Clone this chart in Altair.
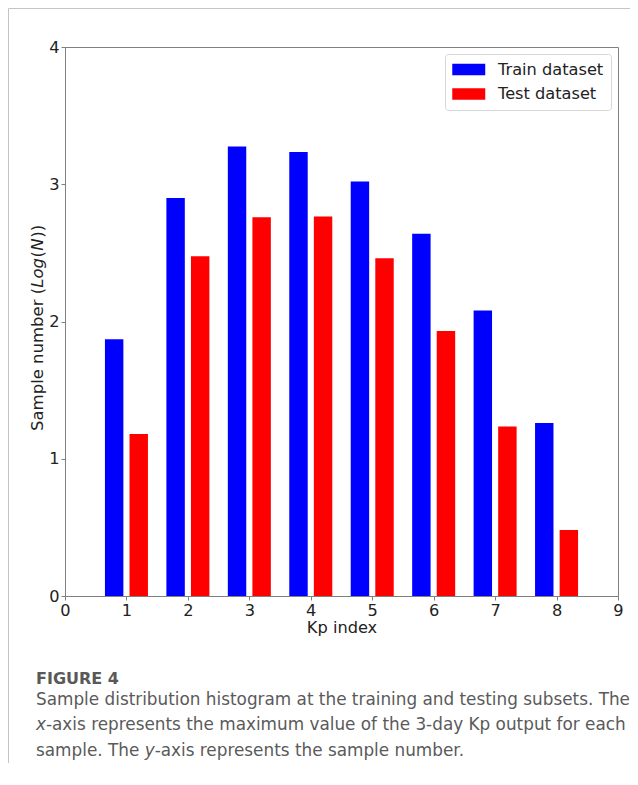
import altair as alt
import pandas as pd

# ---- data ----
kp = [1, 2, 3, 4, 5, 6, 7, 8]
train = [1.87, 2.90, 3.275, 3.235, 3.02, 2.64, 2.08, 1.26]
test = [1.18, 2.475, 2.76, 2.765, 2.46, 1.93, 1.235, 0.48]
series_names = ["Train dataset", "Test dataset"]
series_colors = ["#0000ff", "#ff0000"]
x_ticks = [0, 1, 2, 3, 4, 5, 6, 7, 8, 9]
y_ticks = [0, 1, 2, 3, 4]

x_title = "Kp index"
y_title_parts = ["Sample number (", "Log", "(", "N", "))"]
y_title_italic = [False, True, False, True, False]
caption_head = "FIGURE 4"
caption_line1 = "Sample distribution histogram at the training and testing subsets. The"
caption_line2 = ["x", "-axis represents the maximum value of the 3-day Kp output for each"]
caption_line3 = ["sample. The ", "y", "-axis represents the sample number."]

rows = []
for k, a, b in zip(kp, train, test):
    rows.append({"kp": k, "series": series_names[0], "value": a})
    rows.append({"kp": k, "series": series_names[1], "value": b})
df = pd.DataFrame(rows)

# ---- layout ----
W, H = 553, 549
CANVAS_W, CANVAS_H = 622, 755
PAD = {"left": 57, "top": 39, "right": CANVAS_W - 57 - W, "bottom": CANVAS_H - 39 - H}
LABEL_FONT = "DejaVu Sans"
FS = 16.2
CAP_FONT = "DejaVu Sans"
CAP_FS = 16.85
EM = CAP_FS / 2048.0
CAP_COLOR = "#5a5a5a"
one = pd.DataFrame({"d": [0]})

bars = alt.Chart(df).transform_calculate(
    x0="datum.series == 'Train dataset' ? datum.kp - 0.35 : datum.kp + 0.05"
).transform_calculate(
    x1="datum.x0 + 0.3"
).mark_bar().encode(
    x=alt.X("x0:Q",
            scale=alt.Scale(domain=[0, 9], nice=False, zero=False),
            axis=alt.Axis(values=x_ticks, format="d", title=x_title, grid=False,
                          labelFlush=False, titlePadding=1)),
    x2="x1:Q",
    y=alt.Y("value:Q",
            scale=alt.Scale(domain=[0, 4], nice=False),
            axis=alt.Axis(values=y_ticks, format="d", title=None, grid=False,
                          labelFlush=False)),
    y2=alt.datum(0),
    color=alt.Color("series:N",
                    scale=alt.Scale(domain=series_names, range=series_colors),
                    legend=alt.Legend(
                        title=None, orient="top-right", offset=7,
                        padding=7, strokeColor="#d6d6d6", cornerRadius=3,
                        fillColor="#ffffff",
                        labelFont=LABEL_FONT, labelFontSize=FS, labelColor="#222222",
                        symbolType="M-1,-0.7H3V0.7H-1Z", symbolSize=272,
                        symbolStrokeWidth=0, symbolOpacity=1,
                        labelOffset=29, rowPadding=7.5)),
)

# y-axis title built from parts (mixed upright/italic)
widths = [143.2, 30.4, 6.6, 13.0, 12.9]
start = 384.0
pos = []
cur = start
for w in widths:
    pos.append(cur)
    cur -= w
yt = pd.DataFrame({"text": y_title_parts, "italic": y_title_italic, "pos": pos})

def ytitle_layer(italic):
    return alt.Chart(yt).transform_filter(
        f"datum.italic == {'true' if italic else 'false'}"
    ).mark_text(
        angle=270, align="left", baseline="middle", font=LABEL_FONT,
        fontSize=16.5, color="#222222", fontStyle="italic" if italic else "normal"
    ).encode(
        x=alt.value(-27), y=alt.Y("pos:Q", scale=None), text="text:N"
    )

def txt(s, x, y, **kw):
    base = dict(align="left", baseline="alphabetic", font=CAP_FONT,
                fontSize=CAP_FS, color=CAP_COLOR)
    base.update(kw)
    return alt.Chart(one).mark_text(text=s, **base).encode(
        x=alt.value(x), y=alt.value(y))

frame_top = alt.Chart(one).mark_rule(color="#c4c4c4", strokeWidth=1).encode(
    x=alt.value(-56.5), x2=alt.value(W + PAD["right"]), y=alt.value(-38.5))
frame_left = alt.Chart(one).mark_rule(color="#c4c4c4", strokeWidth=1).encode(
    x=alt.value(-56.5), y=alt.value(-38.5), y2=alt.value(H + PAD["bottom"]))

CX = -29
W_X = 1212 * EM
W_SAMPLE_THE = 13208 * EM
cap = [
    txt(caption_head, CX, 636.5, fontSize=16, fontWeight="bold", color="#595959"),
    txt(caption_line1, CX, 657.5),
    txt(caption_line2[0], CX, 683, fontStyle="italic"),
    txt(caption_line2[1], CX + W_X, 683),
    txt(caption_line3[0], CX, 708.5),
    txt(caption_line3[1], CX + W_SAMPLE_THE, 708.5, fontStyle="italic"),
    txt(caption_line3[2], CX + W_SAMPLE_THE + W_X, 708.5),
]

chart = alt.layer(
    frame_top, frame_left, bars, ytitle_layer(False), ytitle_layer(True), *cap
).properties(
    width=W, height=H,
    autosize=alt.AutoSizeParams(type="none"),
    padding=PAD,
    background="#ffffff",
).configure_view(
    stroke="#808080", strokeWidth=1
).configure_axis(
    labelFont=LABEL_FONT, labelFontSize=FS, labelColor="#222222",
    titleFont=LABEL_FONT, titleFontSize=FS, titleFontWeight="normal", titleColor="#222222",
    domainColor="#808080", tickColor="#808080", tickSize=4, labelPadding=2,
)

chart.save("out.html", embed_options={"renderer": "svg", "actions": False})
